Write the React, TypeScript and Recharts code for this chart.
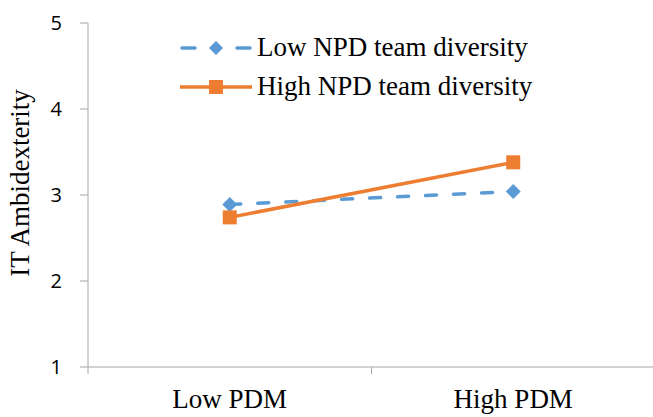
import React from 'react';
import { LineChart, Line, XAxis, YAxis } from 'recharts';

const categories = ['Low PDM', 'High PDM'];
const lowDiversity = [2.89, 3.04];
const highDiversity = [2.74, 3.38];
const yTicks = [1, 2, 3, 4, 5];
const seriesNames = ['Low NPD team diversity', 'High NPD team diversity'];

const BLUE = '#5B9BD5';
const ORANGE = '#ED7D31';
const AXIS = '#A6A6A6';
const SERIF = '"Liberation Serif", "Times New Roman", serif';
const X_TICK_SIZE = 7;
const X_TICK_MARGIN = 15;

const data = categories.map((category, i) => ({
  category,
  low: lowDiversity[i],
  high: highDiversity[i],
}));

const Diamond = (props: any) => {
  const { cx, cy } = props;
  if (cx == null || cy == null) return null;
  const r = 7.5;
  return (
    <polygon
      key={`d-${props.index}`}
      points={`${cx},${cy - r} ${cx + r},${cy} ${cx},${cy + r} ${cx - r},${cy}`}
      fill={BLUE}
    />
  );
};

const Square = (props: any) => {
  const { cx, cy } = props;
  if (cx == null || cy == null) return null;
  const s = 14;
  return <rect key={`s-${props.index}`} x={cx - s / 2} y={cy - s / 2} width={s} height={s} fill={ORANGE} />;
};

// category label centred in its band, with tick marks on the band edges
const XTick = (props: any) => {
  const { x, y, payload, index, visibleTicksCount } = props;
  const half = payload?.offset ?? 0;
  const axisY = y - X_TICK_SIZE - X_TICK_MARGIN;
  const last = index === visibleTicksCount - 1;
  return (
    <g>
      <line x1={x - half} x2={x - half} y1={axisY} y2={axisY + X_TICK_SIZE} stroke={AXIS} />
      {last && <line x1={x + half} x2={x + half} y1={axisY} y2={axisY + X_TICK_SIZE} stroke={AXIS} />}
      <text x={x} y={y} dy="0.71em" textAnchor="middle" fontFamily={SERIF} fontSize={27} fill="#000">
        {payload.value}
      </text>
    </g>
  );
};

const YTitle = (props: any) => {
  const vb = props.viewBox || { x: 0, y: 0, width: 0, height: 0 };
  const cx = vb.x + 20;
  const cy = vb.y + vb.height / 2 - 12;
  return (
    <text
      x={cx}
      y={cy}
      transform={`rotate(-90, ${cx}, ${cy})`}
      textAnchor="middle"
      dominantBaseline="central"
      fontFamily={SERIF}
      fontSize={27}
      fill="#000"
    >
      IT Ambidexterity
    </text>
  );
};

const LegendIcon = ({ dashed }: { dashed: boolean }) => (
  <svg width={72} height={20} style={{ display: 'block' }}>
    {dashed ? (
      <>
        <line x1={2} x2={15} y1={10} y2={10} stroke={BLUE} strokeWidth={3.5} strokeLinecap="round" />
        <line x1={57} x2={70} y1={10} y2={10} stroke={BLUE} strokeWidth={3.5} strokeLinecap="round" />
        <polygon points="36,3 43,10 36,17 29,10" fill={BLUE} />
      </>
    ) : (
      <>
        <line x1={0} x2={72} y1={10} y2={10} stroke={ORANGE} strokeWidth={3.5} />
        <rect x={29} y={3} width={14} height={14} fill={ORANGE} />
      </>
    )}
  </svg>
);

export default function App() {
  return (
    <div style={{ position: 'absolute', left: 0, top: 0, width: 653, height: 417, background: '#fff' }}>
      <LineChart width={653} height={417} data={data} margin={{ top: 23, right: -2, bottom: 20, left: 0 }}>
        <XAxis
          dataKey="category"
          scale="band"
          axisLine={{ stroke: AXIS }}
          tickLine={false}
          tickSize={X_TICK_SIZE}
          tickMargin={X_TICK_MARGIN}
          tick={<XTick />}
          interval={0}
        />
        <YAxis
          domain={[1, 5]}
          ticks={yTicks}
          width={88}
          axisLine={{ stroke: AXIS }}
          tickLine={{ stroke: AXIS }}
          tickSize={8}
          tickMargin={18}
          tick={{ fontFamily: '"Open Sans", sans-serif', fontSize: 20, fill: '#000' }}
          label={<YTitle />}
        />
        <Line
          dataKey="low"
          stroke={BLUE}
          strokeWidth={3.5}
          strokeDasharray="11 17"
          strokeLinecap="round"
          dot={Diamond}
          activeDot={false}
          isAnimationActive={false}
        />
        <Line
          dataKey="high"
          stroke={ORANGE}
          strokeWidth={3.5}
          dot={Square}
          activeDot={false}
          isAnimationActive={false}
        />
      </LineChart>
      <div style={{ position: 'absolute', left: 180, top: 28, fontFamily: SERIF, fontSize: 27, color: '#000' }}>
        {seriesNames.map((name, i) => (
          <div key={name} style={{ display: 'flex', alignItems: 'center', height: 39, lineHeight: '39px' }}>
            <LegendIcon dashed={i === 0} />
            <span style={{ marginLeft: 5, whiteSpace: 'nowrap' }}>{name}</span>
          </div>
        ))}
      </div>
    </div>
  );
}
